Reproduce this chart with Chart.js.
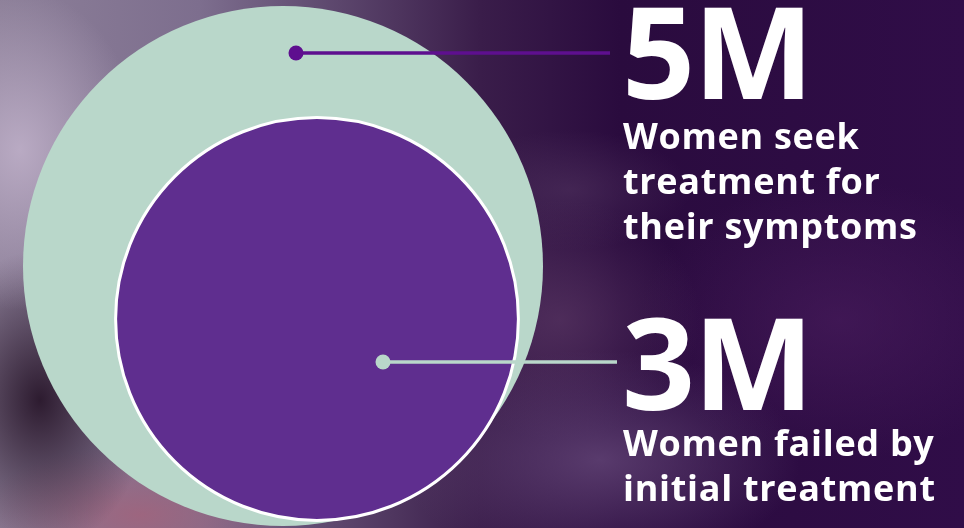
<!DOCTYPE html>
<html lang="en">
<head>
    <meta charset="UTF-8">
    <title>Women seeking treatment</title>
    <style>
        html, body { margin: 0; padding: 0; }
        body {
            width: 964px;
            height: 528px;
            overflow: hidden;
            position: relative;
            font-family: "Open Sans", sans-serif;
            background:
                radial-gradient(ellipse 120px 160px at 20px 150px, rgba(190,175,200,0.9), rgba(190,175,200,0) 100%),
                radial-gradient(ellipse 110px 150px at 40px 400px, rgba(40,22,42,0.95), rgba(40,22,42,0) 100%),
                radial-gradient(ellipse 160px 70px at 140px 515px, rgba(160,100,125,0.9), rgba(160,100,125,0) 100%),
                radial-gradient(ellipse 200px 110px at 600px 460px, rgba(100,70,120,0.8), rgba(100,70,120,0) 100%),
                radial-gradient(ellipse 140px 120px at 560px 320px, rgba(90,55,100,0.7), rgba(90,55,100,0) 100%),
                radial-gradient(ellipse 120px 60px at 570px 190px, rgba(80,50,95,0.6), rgba(80,50,95,0) 100%),
                radial-gradient(ellipse 200px 140px at 840px 320px, rgba(75,30,95,0.6), rgba(75,30,95,0) 100%),
                linear-gradient(90deg, #8c7f98 0px, #7d6e8e 200px, #3a1d4a 480px, #2a0b3e 620px, #300d48 964px);
        }
        #wrap {
            position: absolute;
            left: 0; top: 0;
            width: 964px;
            height: 528px;
        }
        .big {
            position: absolute;
            left: 622px;
            color: #fff;
            font-weight: 700;
            font-size: 128px;
            line-height: 128px;
            letter-spacing: -2px;
            white-space: nowrap;
        }
        .caption {
            position: absolute;
            left: 623px;
            color: #fff;
            font-weight: 700;
            font-size: 36px;
            line-height: 45px;
            letter-spacing: 0.7px;
            white-space: nowrap;
        }
    </style>
</head>
<body>
    <div id="wrap"><canvas id="circles"></canvas></div>
    <div class="big" id="big0" style="top:-14px"></div>
    <div class="caption" id="cap0" style="top:113px"></div>
    <div class="big" id="big1" style="top:297px"></div>
    <div class="caption" id="cap1" style="top:420px"></div>

    <script src="https://cdn.jsdelivr.net/npm/chart.js"></script>
    <script>
// data
const labels = ['5M', '3M'];
const values = [5, 3]; // millions of women
const captions = [
    ['Women seek', 'treatment for', 'their symptoms'],
    ['Women failed by', 'initial treatment']
];

// layout (in the chart's own units, 1 unit = 1px)
const centres = [{x: 283, y: 266}, {x: 317, y: 319}];
const maxRadius = 260;
const dots = [{x: 296, y: 53}, {x: 383, y: 362}];
const lineEnd = [610, 617];

const fills = ['#b9d7ca', '#5f2e8f'];
const lineColours = ['#5e0f8f', '#b9d7ca'];

const maxValue = Math.max(...values);
function bubbleRadius(v) {
    return maxRadius * Math.sqrt(v / maxValue);
}

for (let i = 0; i < labels.length; i++) {
    document.getElementById('big' + i).textContent = labels[i];
    document.getElementById('cap' + i).innerHTML = captions[i].join('<br>');
}

const bubbleSets = values.map((v, i) => ({
    type: 'bubble',
    label: labels[i],
    data: [{x: centres[i].x, y: centres[i].y, r: bubbleRadius(v)}],
    backgroundColor: fills[i],
    borderColor: i === 0 ? fills[i] : '#ffffff',
    borderWidth: i === 0 ? 0 : 3,
    clip: false,
    order: 10 - i
}));

const lineSets = values.map((v, i) => ({
    type: 'line',
    label: labels[i] + ' pointer',
    data: [{x: dots[i].x, y: dots[i].y}, {x: lineEnd[i], y: dots[i].y}],
    borderColor: lineColours[i],
    backgroundColor: lineColours[i],
    borderWidth: 3.5,
    pointRadius: [7.5, 0],
    pointBorderWidth: 0,
    clip: false,
    order: 1
}));

const ctx = document.getElementById('circles').getContext('2d');
const chart = new Chart(ctx, {
    type: 'bubble',
    data: {
        datasets: bubbleSets.concat(lineSets)
    },
    options: {
        responsive: true,
        maintainAspectRatio: false,
        animation: false,
        events: [],
        layout: { padding: 0, autoPadding: false },
        plugins: {
            legend: { display: false },
            tooltip: { enabled: false },
            title: { display: false }
        },
        scales: {
            x: { type: 'linear', min: 0, max: 964, display: false },
            y: { type: 'linear', min: 0, max: 528, reverse: true, display: false }
        }
    }
});
    </script>
</body>
</html>
